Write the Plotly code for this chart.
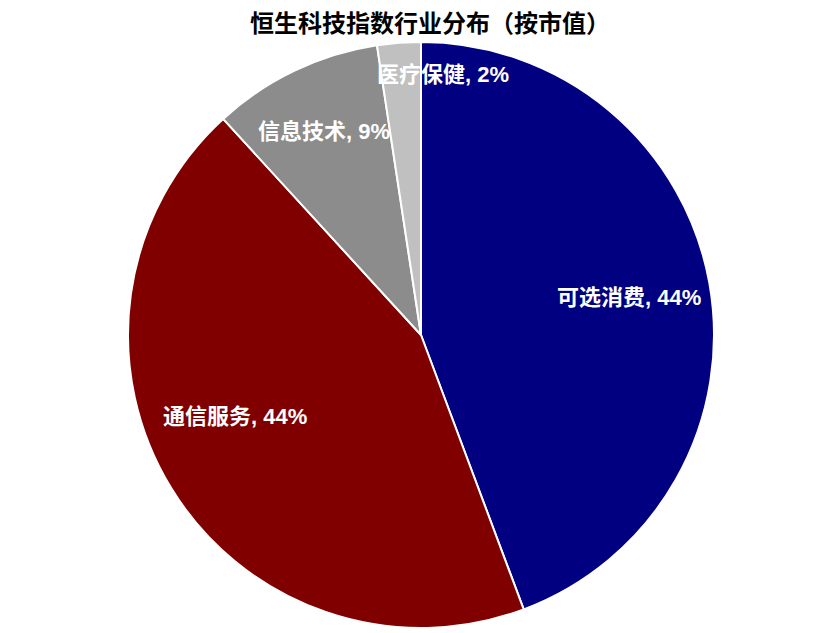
import math
import plotly.graph_objects as go

categories = ["可选消费", "通信服务", "信息技术", "医疗保健"]
values = [44.3, 43.9, 9.4, 2.4]
colors = ["#000080", "#800000", "#8c8c8c", "#c0c0c0"]

# label placement style (fraction of radius, pixel nudges)
label_radius = [0.72, 0.70, 0.77, 0.89]
label_xshift = [0, -11, 0, 42]
label_yshift = [0, 26, 0, 0]

fig = go.Figure(go.Pie(
    labels=categories,
    values=values,
    sort=False,
    direction="clockwise",
    rotation=0,
    marker=dict(colors=colors, line=dict(color="white", width=2)),
    textinfo="none",
    showlegend=False,
    hoverinfo="label+percent",
))

total = sum(values)
cum = 0.0
annotations = []
for i, (lab, v) in enumerate(zip(categories, values)):
    mid = (cum + v / 2) / total * 2 * math.pi
    cum += v
    f = label_radius[i]
    annotations.append(dict(
        x=0.5 + 0.5 * f * math.sin(mid),
        y=0.5 + 0.5 * f * math.cos(mid),
        xref="paper", yref="paper",
        text=f"{lab}, {round(v / total * 100)}%",
        showarrow=False,
        xanchor="center", yanchor="middle",
        xshift=label_xshift[i], yshift=label_yshift[i],
        font=dict(family="Liberation Sans, Noto Sans CJK SC", size=22, color="white", weight="bold"),
    ))

fig.update_layout(
    width=821, height=625,
    margin=dict(l=120, r=115, t=34, b=5),
    paper_bgcolor="white",
    plot_bgcolor="white",
    annotations=annotations,
    title=dict(
        text="恒生科技指数行业分布（按市值）",
        x=0.514, xanchor="center",
        y=1 - 16 / 625, yanchor="middle", yref="container",
        font=dict(family="Noto Sans CJK SC", size=24, color="black", weight="bold"),
    ),
)

fig.write_html("out.html")
